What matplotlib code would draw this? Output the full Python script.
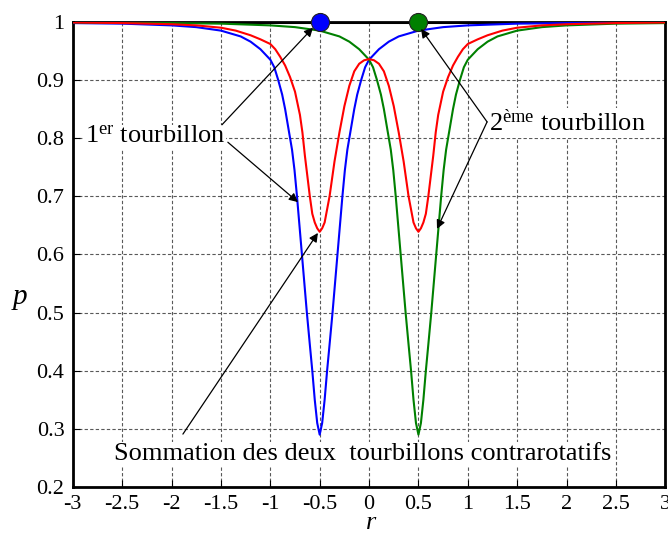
import matplotlib
matplotlib.use("Agg")
import matplotlib.pyplot as plt

plt.rcParams["font.family"] = ["Liberation Serif", "DejaVu Serif"]
plt.rcParams["mathtext.fontset"] = "custom"
plt.rcParams["mathtext.rm"] = "Liberation Serif"
plt.rcParams["mathtext.it"] = "Liberation Serif:italic"
plt.rcParams["axes.unicode_minus"] = False

# Pressure profile of the first vortex (centred at r = -0.5)
r_first = [-3.0, -2.5, -2.0, -1.75, -1.5, -1.3, -1.2, -1.1, -1.0, -0.96, -0.92,
           -0.88, -0.85, -0.8, -0.78, -0.755, -0.73, -0.705, -0.68, -0.655,
           -0.63, -0.6, -0.575, -0.55, -0.525, -0.5, -0.475, -0.45, -0.425,
           -0.4, -0.37, -0.345, -0.32, -0.295, -0.27, -0.245, -0.22, -0.2,
           -0.15, -0.12, -0.08, -0.04, 0.0, 0.1, 0.2, 0.3, 0.5, 0.75, 1.0,
           1.5, 2.0, 2.5, 3.0]
p_first = [0.998, 0.997, 0.994, 0.991, 0.985, 0.975, 0.966, 0.953, 0.935, 0.922, 0.90,
           0.875, 0.85, 0.80, 0.78, 0.745, 0.70, 0.65, 0.60, 0.55,
           0.50, 0.445, 0.40, 0.35, 0.31, 0.29, 0.31, 0.35, 0.40,
           0.445, 0.50, 0.55, 0.60, 0.65, 0.70, 0.745, 0.78, 0.80,
           0.85, 0.875, 0.90, 0.922, 0.935, 0.953, 0.966, 0.975, 0.985, 0.991, 0.994,
           0.997, 0.998, 0.9985, 0.999]

# Pressure profile of the second vortex (centred at r = +0.5)
r_second = [-3.0, -2.5, -2.0, -1.5, -1.0, -0.75, -0.5, -0.3, -0.2, -0.1, 0.0,
            0.04, 0.08, 0.12, 0.15, 0.2, 0.22, 0.245, 0.27, 0.295, 0.32,
            0.345, 0.37, 0.4, 0.425, 0.45, 0.475, 0.5, 0.525, 0.55, 0.575,
            0.6, 0.63, 0.655, 0.68, 0.705, 0.73, 0.755, 0.78, 0.8, 0.85,
            0.88, 0.92, 0.96, 1.0, 1.1, 1.2, 1.3, 1.5, 1.75, 2.0, 2.5, 3.0]
p_second = [0.999, 0.9985, 0.998, 0.997, 0.994, 0.991, 0.985, 0.975, 0.966, 0.953, 0.935,
            0.922, 0.90, 0.875, 0.85, 0.80, 0.78, 0.745, 0.70, 0.65, 0.60,
            0.55, 0.50, 0.445, 0.40, 0.35, 0.31, 0.29, 0.31, 0.35, 0.40,
            0.445, 0.50, 0.55, 0.60, 0.65, 0.70, 0.745, 0.78, 0.80, 0.85,
            0.875, 0.90, 0.922, 0.935, 0.953, 0.966, 0.975, 0.985, 0.991, 0.994, 0.997, 0.998]

# Summed pressure of the two counter-rotating vortices
r_sum = [-3.0, -2.5, -2.0, -1.75, -1.5, -1.35, -1.2, -1.1, -1.0, -0.95, -0.9,
         -0.85, -0.8, -0.75, -0.7, -0.675, -0.65, -0.6, -0.575, -0.55, -0.525,
         -0.5, -0.475, -0.45, -0.4, -0.35, -0.3, -0.25, -0.2, -0.15, -0.1,
         -0.05, 0.0, 0.05, 0.1, 0.15, 0.2, 0.25, 0.3, 0.35, 0.4, 0.45, 0.475,
         0.5, 0.525, 0.55, 0.575, 0.6, 0.65, 0.675, 0.7, 0.75, 0.8, 0.85, 0.9,
         0.95, 1.0, 1.1, 1.2, 1.35, 1.5, 1.75, 2.0, 2.5, 3.0]
p_sum = [0.999, 0.998, 0.996, 0.994, 0.99, 0.985, 0.977, 0.970, 0.962, 0.953, 0.94,
         0.925, 0.905, 0.88, 0.84, 0.81, 0.77, 0.70, 0.67, 0.655, 0.645,
         0.639, 0.645, 0.655, 0.70, 0.76, 0.81, 0.855, 0.89, 0.915, 0.928,
         0.934, 0.936, 0.934, 0.928, 0.915, 0.89, 0.855, 0.81, 0.76, 0.70, 0.655, 0.645,
         0.639, 0.645, 0.655, 0.67, 0.70, 0.77, 0.81, 0.84, 0.88, 0.905, 0.925, 0.94,
         0.953, 0.962, 0.970, 0.977, 0.985, 0.99, 0.994, 0.996, 0.998, 0.999]

# Vortex centres
centre_r = [-0.5, 0.5]
centre_p = [1.0, 1.0]
centre_colors = ["#0000ff", "#008000"]

x_ticks = [-3, -2.5, -2, -1.5, -1, -0.5, 0, 0.5, 1, 1.5, 2, 2.5, 3]
x_tick_labels = ["-3", "-2.5", "-2", "-1.5", "-1", "-0.5", "0", "0.5", "1", "1.5", "2", "2.5", "3"]
y_ticks = [0.2, 0.3, 0.4, 0.5, 0.6, 0.7, 0.8, 0.9, 1.0]
y_tick_labels = ["0.2", "0.3", "0.4", "0.5", "0.6", "0.7", "0.8", "0.9", "1"]

fig = plt.figure(figsize=(6.68, 5.34), dpi=100)
ax = fig.add_axes([0.109, 0.088, 0.887, 0.871])

ax.plot(r_first, p_first, color="#0000ff", lw=1.5, zorder=3)
ax.plot(r_second, p_second, color="#008000", lw=1.5, zorder=3)
ax.plot(r_sum, p_sum, color="#ff0000", lw=1.5, zorder=3)
ax.axhline(1.0, color="black", lw=2.2, zorder=2.5)

for rc, pc, col in zip(centre_r, centre_p, centre_colors):
    ax.plot([rc], [pc], "o", ms=13, color=col, mec="#222222", mew=0.8,
            zorder=5, clip_on=False)

ax.set_xlim(-3, 3)
ax.set_ylim(0.2, 1.0)
ax.set_xticks(x_ticks)
ax.set_xticklabels(x_tick_labels)
ax.set_yticks(y_ticks)
ax.set_yticklabels(y_tick_labels)
ax.tick_params(direction="in", length=5, width=0.8, labelsize=16)
ax.tick_params(axis="x", pad=6)
ax.tick_params(axis="y", pad=6)
ax.grid(True, color="0.35", linestyle=(0, (3, 2)), lw=0.8, zorder=1)
for s in ax.spines.values():
    s.set_linewidth(2.0)

ax.set_xlabel("$\\it{r}$", fontsize=19, va="center")
ax.xaxis.set_label_coords(0.503, -0.078)
ax.set_ylabel("$\\it{p}$", fontsize=21, rotation=0, va="center", ha="center")
ax.yaxis.set_label_coords(-0.089, 0.404)

box = dict(facecolor="white", edgecolor="none", pad=1.0)
arrow = dict(arrowstyle="-|>", color="black", lw=0.9, mutation_scale=13,
             shrinkA=0, shrinkB=0)

ax.text(-2.88, 0.802, "1$^{\\rm er}$ tourbillon", fontsize=19, ha="left",
        va="center", bbox=box, zorder=4)
ax.annotate("", xy=(-0.568, 0.99), xytext=(-1.49, 0.823), arrowprops=arrow, zorder=6)
ax.annotate("", xy=(-0.72, 0.69), xytext=(-1.43, 0.793), arrowprops=arrow, zorder=6)

ax.text(1.215, 0.826, "2$^{\\rm ème}$ tourbillon", fontsize=19, ha="left",
        va="center", bbox=box, zorder=4)
ax.annotate("", xy=(0.526, 0.988), xytext=(1.195, 0.828), arrowprops=arrow, zorder=6)
ax.annotate("", xy=(0.688, 0.644), xytext=(1.195, 0.828), arrowprops=arrow, zorder=6)

ax.text(-0.062, 0.256, "Sommation des deux  tourbillons contrarotatifs",
        fontsize=19, ha="center", va="center", bbox=box, zorder=4)
ax.annotate("", xy=(-0.518, 0.637), xytext=(-1.885, 0.291), arrowprops=arrow, zorder=6)

fig.savefig("out.png", dpi=100)
